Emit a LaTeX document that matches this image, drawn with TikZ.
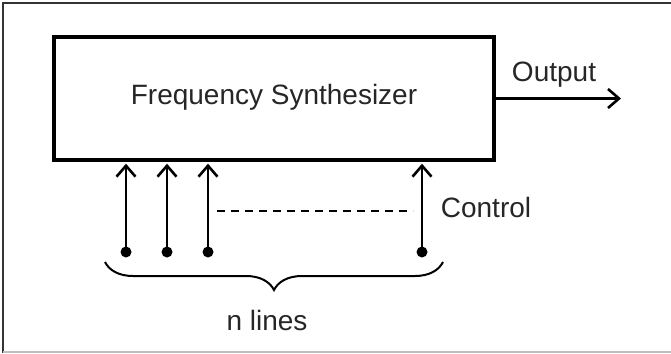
\documentclass[tikz,border=0pt]{standalone}
\usepackage{fontspec}
\setmainfont{Liberation Sans}
\usepackage{tikz}
\usetikzlibrary{positioning,calc,decorations.pathreplacing,arrows.meta}
\tikzset{
  blockbox/.style={draw, line width=3.4pt, minimum width=440pt, minimum height=123pt, inner sep=0pt},
  sigline/.style={line width=2.6pt, -{Straight Barb[length=11pt, width=19pt, line width=2.6pt]}},
  pindot/.style={circle, fill=black, inner sep=0pt, minimum size=11pt},
  lbl/.style={font=\fontsize{28}{32}\selectfont, inner sep=0pt, text=black!85}
}

\begin{document}
\begin{tikzpicture}[x=1pt, y=-1pt]
\useasboundingbox (0,0) rectangle (671,353);
% Frame
\draw[black!80, line width=1.4pt] (3,353) -- (3,3) -- (671,3);
\draw[black!25, line width=1.4pt] (3,352) -- (671,352);

% Synthesizer block
\node[blockbox] (synth) at (274,98.5) {};
\node[lbl] (title) at (274,97) {Frequency Synthesizer};

% Output
\coordinate (out) at (621,98.5);
\draw[sigline] (synth.east) -- (out);
\node[lbl] (outlbl) at (554,75) {Output};

% Control lines
\foreach \i/\x in {1/126, 2/167, 3/208, 4/422} {
  \node[pindot] (pin\i) at (\x,252) {};
  \draw[sigline] (pin\i.center) -- ($(pin\i.center |- synth.south)+(0,2)$);
}
\coordinate (dashL) at (217,211);
\coordinate (dashR) at (413,211);
\draw[line width=2pt, dash pattern=on 8pt off 6pt] (dashL) -- (dashR);
\node[lbl] (ctrl) at (486,207) {Control};

% Brace
\coordinate (braceL) at (105,262);
\coordinate (braceR) at (443,262);
\draw[line width=2pt, decorate, decoration={brace, mirror, amplitude=28pt, aspect=0.5}] (braceL) -- (braceR);
\node[lbl] (nlines) at (267,320) {n lines};
\end{tikzpicture}
\end{document}
